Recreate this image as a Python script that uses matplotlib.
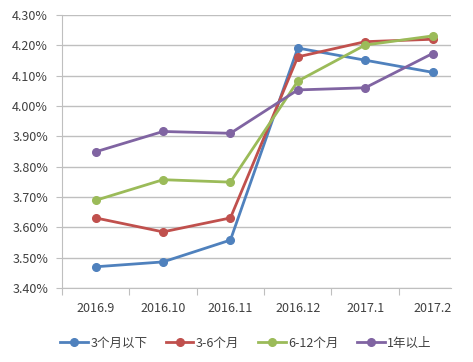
import numpy as np
import matplotlib.pyplot as plt
from matplotlib.ticker import FuncFormatter

plt.rcParams['font.family'] = ['Noto Sans CJK SC', 'DejaVu Sans']

months = ["2016.9", "2016.10", "2016.11", "2016.12", "2017.1", "2017.2"]
below_3m = [3.470, 3.486, 3.558, 4.191, 4.151, 4.111]
m3_6 = [3.631, 3.585, 3.631, 4.162, 4.212, 4.220]
m6_12 = [3.689, 3.757, 3.749, 4.082, 4.201, 4.231]
above_1y = [3.849, 3.916, 3.910, 4.053, 4.060, 4.173]

names = ["3个月以下", "3-6个月", "6-12个月", "1年以上"]
colors = ["#4F81BD", "#C0504D", "#9BBB59", "#8064A2"]

fig = plt.figure(figsize=(4.73, 3.62), dpi=100)
ax = fig.add_axes([0.131, 0.2044, 0.822, 0.7542])

x = np.arange(len(months))
for ys, name, c in zip([below_3m, m3_6, m6_12, above_1y], names, colors):
    ax.plot(x, ys, color=c, lw=2, marker='o', ms=5.5, label=name)

ax.set_ylim(3.40, 4.30)
ax.set_yticks(np.arange(3.40, 4.301, 0.10))
ax.yaxis.set_major_formatter(FuncFormatter(lambda v, p: "%.2f%%" % v))
ax.set_xlim(-0.5, 5.27)
ax.set_xticks(np.arange(-0.5, 5.0, 1.0))
ax.set_xticklabels([])
ax.set_xticks(x, minor=True)
ax.set_xticklabels(months, minor=True)
ax.tick_params(axis='x', which='minor', length=0, pad=10, labelsize=9, colors='#404040')
ax.tick_params(axis='x', which='major', length=5, color='#BFBFBF')
ax.tick_params(axis='y', length=4, color='#BFBFBF', labelsize=9, labelcolor='#404040', pad=6)

ax.grid(axis='y', color='#BFBFBF', lw=1)
ax.set_axisbelow(True)
for s in ['top', 'right']:
    ax.spines[s].set_visible(False)
for s in ['left', 'bottom']:
    ax.spines[s].set_color('#BFBFBF')

handles, labels = ax.get_legend_handles_labels()
fig.legend(handles, labels, loc='center', bbox_to_anchor=(0.52, 0.052), ncol=4, frameon=False,
           fontsize=9, handlelength=2.2, handletextpad=0.2, columnspacing=1.5,
           labelcolor='#404040')

fig.savefig("out.png", dpi=100)
